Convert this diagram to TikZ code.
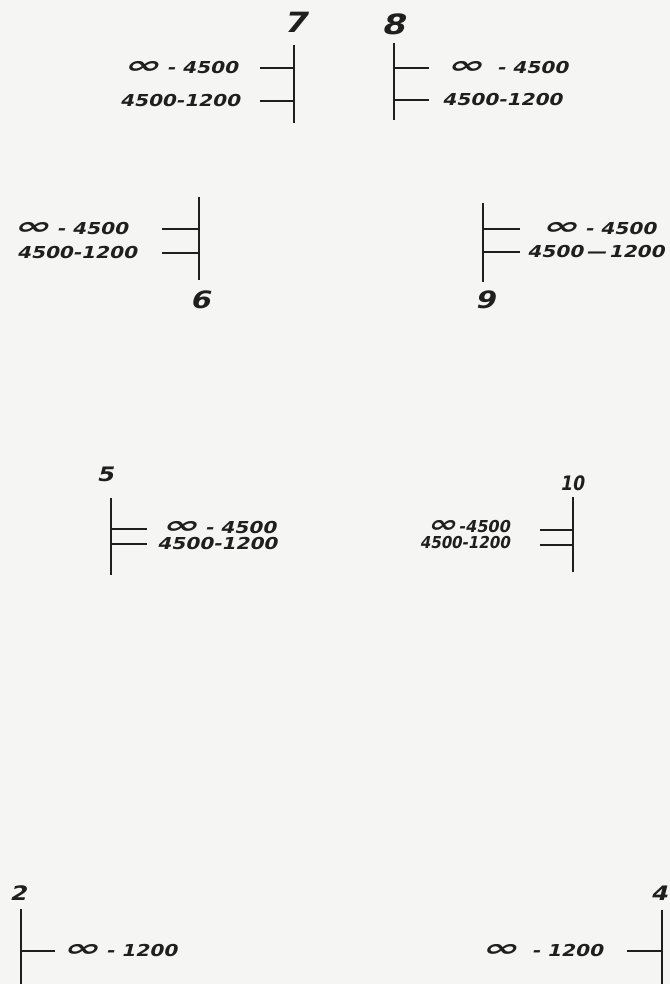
\documentclass[tikz,border=0pt]{standalone}
\usepackage{fontspec}
\usepackage{graphicx}
\newfontfamily\hand[FakeSlant=0.25,FakeStretch=1.22]{DejaVu Sans}
\newcommand\infsym{\scalebox{2.2}[1.45]{∞}}
\begin{document}
\begin{tikzpicture}[x=1bp,y=-1bp,
  bar/.style={line width=1.8bp,black!88},
  rangetxt/.style={font=\hand\bfseries\fontsize{16.5}{16.5}\selectfont, inner sep=0pt, text=black!88},
  numtxt/.style={font=\hand\bfseries\fontsize{24}{24}\selectfont, inner sep=0pt, text=black!88},
  bignum/.style={numtxt, font=\hand\bfseries\fontsize{28}{28}\selectfont},
  smallnum/.style={numtxt, font=\hand\bfseries\fontsize{20}{20}\selectfont}]
\fill[fill={rgb,255:red,245;green,245;blue,243}] (0,0) rectangle (670,984);
\useasboundingbox (0,0) rectangle (670,984);

% group 7
\node[bignum] (n7) at (295,22) {7};
\coordinate (v7t) at (294,45); \coordinate (v7b) at (294,123);
\coordinate (v7a) at (294,68); \coordinate (v7c) at (294,101);
\node[rangetxt,anchor=east] (t7a) at (238,68) {\infsym\ -\ 4500};
\node[rangetxt,anchor=east] (t7b) at (240,101) {4500-1200};
\coordinate (k7a) at (260,68); \coordinate (k7c) at (260,101);
\draw[bar] (v7t) -- (v7b);
\draw[bar] (k7a) -- (v7a);
\draw[bar] (k7c) -- (v7c);

% group 8
\node[bignum] (n8) at (393,24) {8};
\coordinate (v8t) at (394,43); \coordinate (v8b) at (394,120);
\coordinate (v8a) at (394,68); \coordinate (v8c) at (394,100);
\node[rangetxt,anchor=west] (t8a) at (446,68) {\infsym\ \ -\ 4500};
\node[rangetxt,anchor=west] (t8b) at (442,100) {4500-1200};
\coordinate (k8a) at (429,68); \coordinate (k8c) at (429,100);
\draw[bar] (v8t) -- (v8b);
\draw[bar] (v8a) -- (k8a);
\draw[bar] (v8c) -- (k8c);

% group 6
\node[numtxt] (n6) at (200,300) {6};
\coordinate (v6t) at (199,197); \coordinate (v6b) at (199,280);
\coordinate (v6a) at (199,229); \coordinate (v6c) at (199,253);
\node[rangetxt,anchor=east] (t6a) at (128,229) {\infsym\ -\ 4500};
\node[rangetxt,anchor=east] (t6b) at (137,253) {4500-1200};
\coordinate (k6a) at (162,229); \coordinate (k6c) at (162,253);
\draw[bar] (v6t) -- (v6b);
\draw[bar] (k6a) -- (v6a);
\draw[bar] (k6c) -- (v6c);

% group 9
\node[numtxt] (n9) at (485,300) {9};
\coordinate (v9t) at (483,203); \coordinate (v9b) at (483,282);
\coordinate (v9a) at (483,229); \coordinate (v9c) at (483,252);
\node[rangetxt,anchor=west] (t9a) at (541,229) {\infsym\ -\ 4500};
\node[rangetxt,anchor=west] (t9b) at (527,252) {4500\,—\,1200};
\coordinate (k9a) at (520,229); \coordinate (k9c) at (520,252);
\draw[bar] (v9t) -- (v9b);
\draw[bar] (v9a) -- (k9a);
\draw[bar] (v9c) -- (k9c);

% group 5
\node[smallnum] (n5) at (105,474) {5};
\coordinate (v5t) at (111,498); \coordinate (v5b) at (111,575);
\coordinate (v5a) at (111,529); \coordinate (v5c) at (111,544);
\node[rangetxt,anchor=west] (t5a) at (161,528) {\infsym\ -\ 4500};
\node[rangetxt,anchor=west] (t5b) at (157,544) {4500-1200};
\coordinate (k5a) at (147,529); \coordinate (k5c) at (147,544);
\draw[bar] (v5t) -- (v5b);
\draw[bar] (v5a) -- (k5a);
\draw[bar] (v5c) -- (k5c);

% group 10
\node[smallnum] (n10) at (572,483) {\scalebox{0.7}[1]{10}};
\coordinate (v10t) at (573,497); \coordinate (v10b) at (573,572);
\coordinate (v10a) at (573,530); \coordinate (v10c) at (573,545);
\node[rangetxt,anchor=east] (t10a) at (510,527) {\scalebox{0.8}[1]{\infsym\,-4500}};
\node[rangetxt,anchor=east] (t10b) at (510,543) {\scalebox{0.75}[1]{4500-1200}};
\coordinate (k10a) at (540,530); \coordinate (k10c) at (540,545);
\draw[bar] (v10t) -- (v10b);
\draw[bar] (k10a) -- (v10a);
\draw[bar] (k10c) -- (v10c);

% group 2
\node[smallnum] (n2) at (18,893) {2};
\coordinate (v2t) at (21,909); \coordinate (v2b) at (21,984);
\coordinate (v2a) at (21,951);
\node[rangetxt,anchor=west] (t2a) at (62,951) {\infsym\ -\ 1200};
\coordinate (k2a) at (55,951);
\draw[bar] (v2t) -- (v2b);
\draw[bar] (v2a) -- (k2a);

% group 4
\node[smallnum] (n4) at (659,893) {4};
\coordinate (v4t) at (662,910); \coordinate (v4b) at (662,984);
\coordinate (v4a) at (662,951);
\node[rangetxt,anchor=east] (t4a) at (603,951) {\infsym\ \ -\ 1200};
\coordinate (k4a) at (627,951);
\draw[bar] (v4t) -- (v4b);
\draw[bar] (k4a) -- (v4a);
\end{tikzpicture}
\end{document}
